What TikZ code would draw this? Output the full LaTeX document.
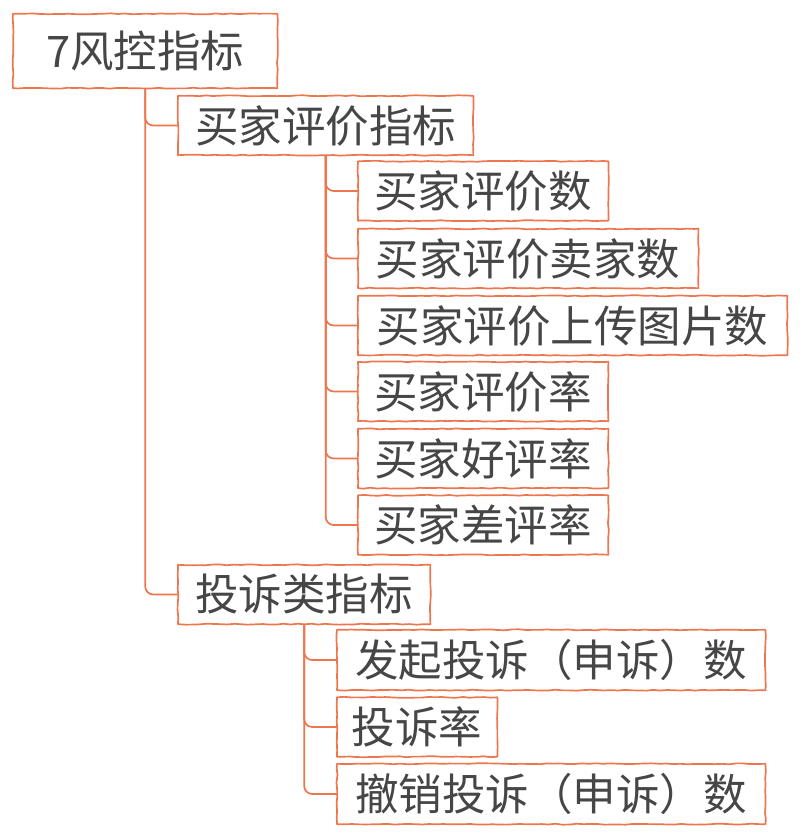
\documentclass[tikz,border=0pt]{standalone}
\usepackage{fontspec}
\usepackage{xcolor}
\newfontfamily\cjk{Noto Sans CJK SC}
\usepackage{tikz}
\usetikzlibrary{decorations.pathmorphing,calc}

\definecolor{mindline}{RGB}{238,118,78}
\definecolor{mindtext}{RGB}{70,70,70}

\begin{document}
\begin{tikzpicture}[x=1pt, y=1pt, inner sep=0pt,
		idx/.style={anchor=west, minimum height=59pt,
			text=mindtext, font=\cjk\fontsize{43.5}{48}\selectfont},
		frame/.style={draw=mindline, line width=1.7pt, line join=round,
			decorate, decoration={random steps, segment length=7pt, amplitude=0.5pt}},
		link/.style={draw=mindline, line width=1.7pt, rounded corners=8pt}]
		\useasboundingbox (0,0) rectangle (800,836);

		\node[idx, minimum width=264pt, minimum height=74pt](root) at (13,785) {7风控指标};

		\node[idx, minimum width=295pt](buyer) at (178,710.5) {买家评价指标};
		\node[idx, minimum width=252pt](complaint) at (178,241.5) {投诉类指标};

		\node[idx, minimum width=250pt](bcount) at (358,645) {买家评价数};
		\node[idx, minimum width=340pt](bseller) at (358,577.5) {买家评价卖家数};
		\node[idx, minimum width=429pt](bphoto) at (358,510.5) {买家评价上传图片数};
		\node[idx, minimum width=250pt](brate) at (358,444.5) {买家评价率};
		\node[idx, minimum width=250pt](bgood) at (358,377.5) {买家好评率};
		\node[idx, minimum width=250pt](bbad) at (358,311) {买家差评率};

		\node[idx, minimum width=428pt, minimum height=60pt](cfiled) at (337,176) {发起投诉（申诉）数};
		\node[idx, minimum width=160pt](crate) at (337,109) {投诉率};
		\node[idx, minimum width=428pt, minimum height=60pt](cwithdrawn) at (337,42) {撤销投诉（申诉）数};

		% hand drawn frames
		\foreach \n in {root,buyer,complaint,bcount,bseller,bphoto,brate,bgood,bbad,cfiled,crate,cwithdrawn}
			\draw[frame] (\n.south west) rectangle (\n.north east);

		\draw[link](root.south) |- (buyer.west);
		\draw[link](root.south) |- (complaint.west);

		\draw[link](buyer.south) |- (bcount.west);
		\draw[link](buyer.south) |- (bseller.west);
		\draw[link](buyer.south) |- (bphoto.west);
		\draw[link](buyer.south) |- (brate.west);
		\draw[link](buyer.south) |- (bgood.west);
		\draw[link](buyer.south) |- (bbad.west);

		\draw[link](complaint.south) |- (cfiled.west);
		\draw[link](complaint.south) |- (crate.west);
		\draw[link](complaint.south) |- (cwithdrawn.west);
	\end{tikzpicture}
\end{document}
